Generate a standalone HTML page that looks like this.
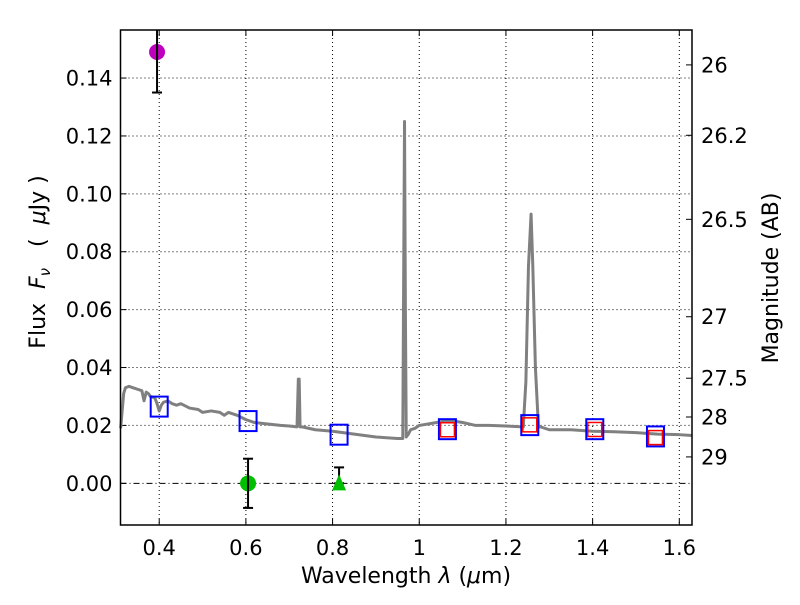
<!DOCTYPE html>
<html><head><meta charset="utf-8"><style>
body{margin:0;background:#fff;}
svg text{font-family:"DejaVu Sans","Liberation Sans",sans-serif;fill:#000;}
</style></head><body>
<svg id="chart" width="800" height="600" xmlns="http://www.w3.org/2000/svg"></svg>
<script>
const xTicks=[0.4,0.6,0.8,1.0,1.2,1.4,1.6];
const xTickLabels=["0.4","0.6","0.8","1","1.2","1.4","1.6"];
const yTicks=[0,0.02,0.04,0.06,0.08,0.10,0.12,0.14];
const yTickLabels=["0.00","0.02","0.04","0.06","0.08","0.10","0.12","0.14"];
const magTicks=[26,26.2,26.5,27,27.5,28,29];
const magTickLabels=["26","26.2","26.5","27","27.5","28","29"];
const specX=[0.311,0.318,0.322,0.33,0.34,0.35,0.36,0.365,0.37,0.375,0.38,0.39,0.395,0.40,0.405,0.41,0.42,0.43,0.44,0.45,0.47,0.49,0.50,0.52,0.54,0.55,0.56,0.58,0.60,0.62,0.65,0.68,0.70,0.718,0.721,0.723,0.725,0.73,0.76,0.80,0.85,0.90,0.95,0.962,0.964,0.966,0.968,0.970,0.975,0.98,0.99,1.00,1.02,1.04,1.06,1.08,1.10,1.13,1.16,1.20,1.24,1.246,1.252,1.258,1.262,1.268,1.275,1.28,1.30,1.35,1.40,1.45,1.50,1.55,1.60,1.63];
const specY=[0.019,0.031,0.033,0.0335,0.033,0.0325,0.032,0.0285,0.0315,0.031,0.030,0.0295,0.0275,0.025,0.027,0.028,0.0285,0.0275,0.027,0.0275,0.026,0.0255,0.0245,0.025,0.0245,0.0235,0.0245,0.0235,0.022,0.021,0.0205,0.020,0.0198,0.0195,0.036,0.036,0.0195,0.0195,0.0185,0.018,0.017,0.016,0.0155,0.0155,0.07,0.125,0.06,0.016,0.017,0.0185,0.019,0.020,0.0205,0.021,0.0215,0.0215,0.021,0.020,0.020,0.0198,0.0195,0.035,0.075,0.093,0.075,0.04,0.0195,0.0195,0.0185,0.0185,0.018,0.0178,0.0175,0.017,0.0168,0.0165];
const blueX=[0.40,0.605,0.815,1.065,1.255,1.405,1.545];
const blueY=[0.0265,0.0215,0.0168,0.0187,0.0201,0.0187,0.0162];
const redX=[1.065,1.255,1.405,1.545];
const redY=[0.0185,0.0202,0.0186,0.0158];
const magentaPt=[0.395,0.149,0.135,0.160];
const greenCirc=[0.605,0.0,-0.0085,0.0085];
const greenTri=[0.815,0.0,0.0,0.0055];

const L=120.5,R=692,T=30,B=525,x0=0.3107,x1=1.6293,y0=-0.0144,y1=0.1566;
const sx=v=>L+(v-x0)/(x1-x0)*(R-L);
const sy=v=>B-(v-y0)/(y1-y0)*(B-T);
const svg=document.getElementById('chart');
const NS='http://www.w3.org/2000/svg';
function mk(t,a,p){const e=document.createElementNS(NS,t);for(const k in a)e.setAttribute(k,a[k]);(p||svg).appendChild(e);return e;}

xTicks.forEach((t,i)=>{
 const g=mk('line',{x1:sx(t),x2:sx(t),y1:T,y2:B,stroke:'#000','stroke-width':1,'stroke-dasharray':'1,3'});
 
 
 mk('line',{x1:sx(t),x2:sx(t),y1:B,y2:B-6,stroke:'#000'});
 mk('line',{x1:sx(t),x2:sx(t),y1:T,y2:T+6,stroke:'#000'});
 const tx=mk('text',{x:sx(t),y:B+30,'font-size':21,'text-anchor':'middle'});tx.textContent=xTickLabels[i];
 
 
});
yTicks.forEach((t,i)=>{
 const g=mk('line',{x1:L,x2:R,y1:sy(t),y2:sy(t),stroke:'#000','stroke-width':1,'stroke-dasharray':t===0?'6,3,1,3':'1,3'});
 
 
 mk('line',{x1:L,x2:L+6,y1:sy(t),y2:sy(t),stroke:'#000'});
 const tx=mk('text',{x:L-8,y:sy(t)+7.5,'font-size':21,'text-anchor':'end'});tx.textContent=yTickLabels[i];
 
 
});
magTicks.forEach((m,i)=>{
 const f=Math.pow(10,(23.9-m)/2.5);const y=sy(f);
 mk('line',{x1:R,x2:R-6,y1:y,y2:y,stroke:'#000'});
 const tx=mk('text',{x:R+9,y:y+7.5,'font-size':21});tx.textContent=magTickLabels[i];
 
 
});

const sp=mk('polyline',{points:specX.map((x,i)=>sx(x)+','+sy(specY[i])).join(' '),fill:'none',stroke:'#808080','stroke-width':3,'stroke-linejoin':'round'});



blueX.forEach((x,i)=>{
 const r=mk('rect',{x:sx(x)-8.5,y:sy(blueY[i])-10,width:17,height:20,fill:'none',stroke:'#0000ff','stroke-width':2});
 
 
});
redX.forEach((x,i)=>{
 const r=mk('rect',{x:sx(x)-7,y:sy(redY[i])-7,width:14,height:14,fill:'none',stroke:'#ff0000','stroke-width':1.5});
 
 
});
function errbar(p){
 const x=sx(p[0]);
 mk('line',{x1:x,x2:x,y1:sy(p[2]),y2:Math.max(T,sy(p[3])),stroke:'#000','stroke-width':2});
 mk('line',{x1:x-5,x2:x+5,y1:sy(p[2]),y2:sy(p[2]),stroke:'#000','stroke-width':2});
 if(sy(p[3])>T)mk('line',{x1:x-5,x2:x+5,y1:sy(p[3]),y2:sy(p[3]),stroke:'#000','stroke-width':2});
}
const mc=mk('circle',{cx:sx(magentaPt[0]),cy:sy(magentaPt[1]),r:8,fill:'#bf00bf'});


errbar(magentaPt);
const gc=mk('circle',{cx:sx(greenCirc[0]),cy:sy(greenCirc[1]),r:8,fill:'#00bf00'});


errbar(greenCirc);
errbar(greenTri);
const tx0=sx(greenTri[0]),ty0=sy(greenTri[1]);
const gt=mk('polygon',{points:`${tx0},${ty0-9} ${tx0-7},${ty0+7} ${tx0+7},${ty0+7}`,fill:'#00bf00'});



const fr=mk('rect',{x:L,y:T,width:R-L,height:B-T,fill:'none',stroke:'#000','stroke-width':1.5});


</script>
<svg width="800" height="600" style="position:absolute;left:0;top:0">
<text x="406" y="583" font-size="22" text-anchor="middle" style="font-family:'DejaVu Sans',sans-serif">Wavelength  <tspan font-style="italic">λ</tspan> (<tspan font-style="italic">μ</tspan>m)</text>
<text transform="translate(45,262) rotate(-90)" font-size="22" text-anchor="middle" style="font-family:'DejaVu Sans',sans-serif" xml:space="preserve">Flux  <tspan font-style="italic">F</tspan><tspan font-style="italic" font-size="15" dy="5">ν</tspan><tspan dy="-5">   (  </tspan><tspan font-style="italic">μ</tspan>Jy )</text>
<text transform="translate(778,278) rotate(-90)" font-size="22" text-anchor="middle" style="font-family:'DejaVu Sans',sans-serif">Magnitude (AB)</text>
</svg>
</body></html>
